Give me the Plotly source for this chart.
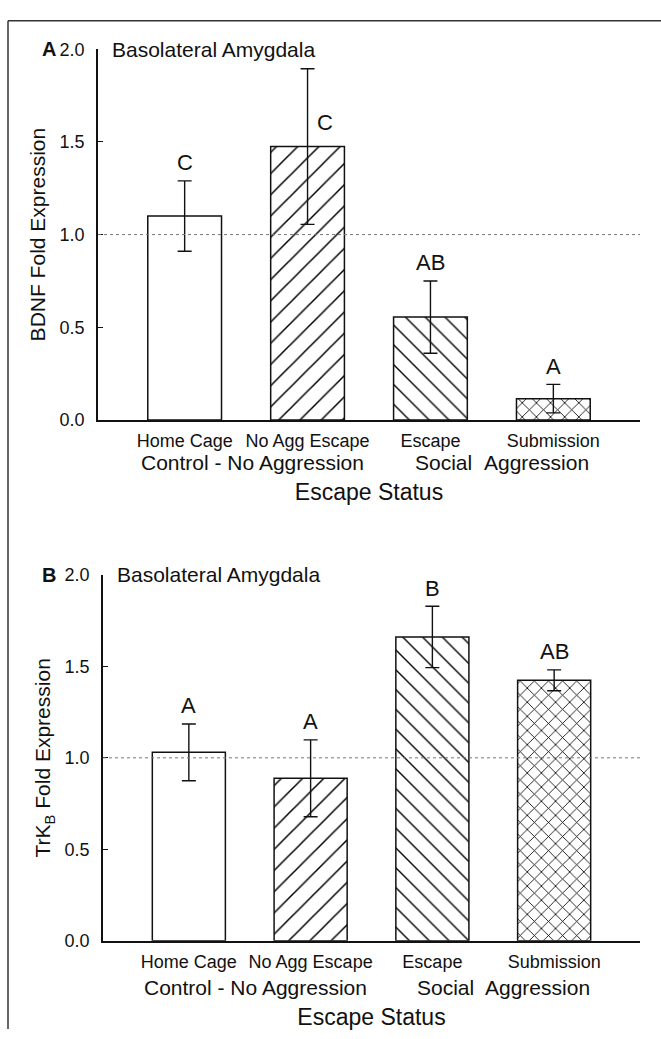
import plotly.graph_objects as go

# ---------------- data ----------------
categories = ["Home Cage", "No Agg Escape", "Escape", "Submission"]
group_labels = ["Control - No Aggression", "Social", "Aggression"]
region = "Basolateral Amygdala"
x_title = "Escape Status"

bdnf_mean = [1.10, 1.475, 0.555, 0.115]
bdnf_sem = [0.19, 0.42, 0.195, 0.077]
bdnf_letters = ["C", "C", "AB", "A"]

trkb_mean = [1.03, 0.888, 1.661, 1.424]
trkb_sem = [0.155, 0.21, 0.168, 0.057]
trkb_letters = ["A", "A", "B", "AB"]

y_ticks = [0.0, 0.5, 1.0, 1.5, 2.0]
reference_level = 1.0

# ---------------- layout helpers ----------------
W, H = 661, 1039
FONT = "Liberation Sans, Arial, Helvetica, sans-serif"
INK = "#111111"


def fx(p):
    return p / W


def fy(p):
    return 1 - p / H


patterns = ["", "/", "\\", "x"]
pattern_sizes = [8, 15, 14, 10]
pattern_solidity = [0.1, 0.1, 0.1, 0.16]

fig = go.Figure()

panels = [
    dict(mean=bdnf_mean, sem=bdnf_sem, letters=bdnf_letters, xa="x", ya="y",
         ytitle="BDNF Fold Expression", tag="A",
         xdom=(98, 640), ydom=(40, 418), group_y=461, tick_pad=4, title_pad=34),
    dict(mean=trkb_mean, sem=trkb_sem, letters=trkb_letters, xa="x2", ya="y2",
         ytitle="TrK<sub>B</sub> Fold Expression", tag="B",
         xdom=(103, 640), ydom=(576, 949), group_y=997, tick_pad=4, title_pad=38),
]

xpos = list(range(len(categories)))
annotations = []
shapes = []

for k, p in enumerate(panels):
    fig.add_trace(go.Bar(
        x=xpos, y=p["mean"], xaxis=p["xa"], yaxis=p["ya"], width=0.6,
        marker=dict(color="white", line=dict(color=INK, width=1.5),
                    pattern=dict(shape=patterns, size=pattern_sizes,
                                 solidity=pattern_solidity, fgopacity=1,
                                 fgcolor="#000000", bgcolor="white")),
        error_y=dict(type="data", array=p["sem"], visible=True, color=INK,
                     thickness=1.4, width=7),
        showlegend=False, hoverinfo="skip"))

    suffix = "" if k == 0 else "2"
    axx = "xaxis" + suffix
    axy = "yaxis" + suffix
    fig.layout[axx] = dict(
        domain=[fx(p["xdom"][0]), fx(p["xdom"][1])], anchor=p["ya"],
        range=[-0.705, 3.705], showline=True, linecolor=INK, linewidth=1.5,
        ticks="", tickvals=xpos, ticktext=categories, showgrid=False, zeroline=False,
        tickfont=dict(size=18, color=INK, family=FONT), ticklabelstandoff=p["tick_pad"],
        title=dict(text=x_title, font=dict(size=23, color=INK, family=FONT),
                   standoff=p["title_pad"]),
    )
    fig.layout[axy] = dict(
        domain=[fy(p["ydom"][1]), fy(p["ydom"][0])], anchor=p["xa"],
        range=[0, 2], showline=True, linecolor=INK, linewidth=1.5,
        ticks="inside", ticklen=5, tickwidth=1.3, tickcolor=INK,
        tickvals=y_ticks, tickformat=".1f", showgrid=False, zeroline=False,
        tickfont=dict(size=18, color=INK, family=FONT), ticklabelstandoff=8,
        title=dict(text=p["ytitle"], font=dict(size=21, color=INK, family=FONT), standoff=8),
    )

    # reference line
    shapes.append(dict(type="line", xref=p["xa"] + " domain", yref=p["ya"],
                       x0=0, x1=1, y0=reference_level, y1=reference_level,
                       line=dict(color="#777777", width=1, dash="dot")))

    # significance letters
    for i, (m, s, lt) in enumerate(zip(p["mean"], p["sem"], p["letters"])):
        if k == 0 and i == 1:
            # placed beside the tall error bar, just above the bar top
            annotations.append(dict(x=i, y=m, xref=p["xa"], yref=p["ya"], text=lt,
                                    showarrow=False, xanchor="center", yanchor="middle",
                                    xshift=17, yshift=24,
                                    font=dict(size=22, color=INK, family=FONT)))
        else:
            annotations.append(dict(x=i, y=m + s, xref=p["xa"], yref=p["ya"], text=lt,
                                    showarrow=False, xanchor="center", yanchor="middle",
                                    yshift=18, font=dict(size=22, color=INK, family=FONT)))

    # region label
    annotations.append(dict(x=0.022, y=2.0, xref=p["xa"] + " domain", yref=p["ya"],
                            text=region, showarrow=False, xanchor="left", yanchor="middle",
                            font=dict(size=21, color=INK, family=FONT)))
    # panel tag
    annotations.append(dict(x=fx(40), y=fy(p["ydom"][0]), xref="paper", yref="paper",
                            text="<b>%s</b>" % p["tag"], showarrow=False,
                            xanchor="left", yanchor="middle",
                            font=dict(size=20, color=INK, family=FONT)))
    # group labels under the category names
    for lbl, gx in zip(group_labels, [0.55, 2.11, 2.86]):
        annotations.append(dict(x=gx, y=fy(p["group_y"]), xref=p["xa"], yref="paper",
                                text=lbl, showarrow=False, xanchor="center", yanchor="middle",
                                font=dict(size=21, color=INK, family=FONT)))

# outer frame (top and left edges)
shapes.append(dict(type="line", xref="paper", yref="paper", x0=fx(8), x1=1,
                   y0=fy(11), y1=fy(11), line=dict(color="#333333", width=1.5)))
shapes.append(dict(type="line", xref="paper", yref="paper", x0=fx(8), x1=fx(8),
                   y0=fy(11), y1=0, line=dict(color="#333333", width=1.5)))

fig.update_layout(
    width=W, height=H, margin=dict(l=0, r=0, t=0, b=0),
    paper_bgcolor="white", plot_bgcolor="white",
    font=dict(family=FONT, color=INK),
    annotations=annotations, shapes=shapes, bargap=0.4,
)

fig.write_html("out.html", config={"displayModeBar": False})
